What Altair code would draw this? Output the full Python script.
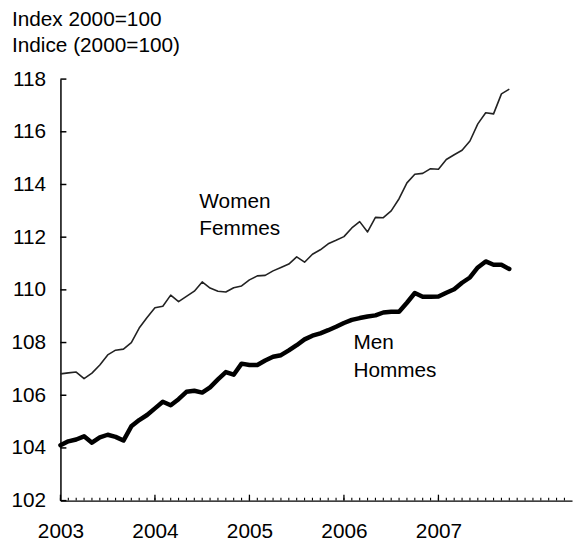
import altair as alt
import pandas as pd

# ---- data ----
months = [f"{y}-{m:02d}" for y in range(2003, 2008) for m in range(1, 13)][:58]  # Jan 2003 .. Oct 2007
women = [106.81, 106.85, 106.88, 106.63, 106.84, 107.15, 107.53, 107.71, 107.75, 108.0,
         108.55, 108.95, 109.32, 109.38, 109.8, 109.55, 109.75, 109.95, 110.3, 110.07,
         109.95, 109.92, 110.08, 110.15, 110.38, 110.53, 110.55, 110.72, 110.85, 110.98,
         111.25, 111.05, 111.35, 111.52, 111.75, 111.88, 112.02, 112.35, 112.59, 112.2,
         112.75, 112.74, 113.0, 113.46, 114.06, 114.39, 114.42, 114.6, 114.58, 114.95,
         115.13, 115.3, 115.65, 116.3, 116.72, 116.68, 117.44, 117.62]
men = [104.1, 104.25, 104.32, 104.44, 104.2, 104.4, 104.5, 104.42, 104.28, 104.82,
       105.06, 105.25, 105.5, 105.75, 105.62, 105.85, 106.13, 106.17, 106.1, 106.3,
       106.6, 106.88, 106.78, 107.2, 107.15, 107.15, 107.32, 107.46, 107.52, 107.7,
       107.9, 108.12, 108.26, 108.35, 108.47, 108.6, 108.74, 108.86, 108.93, 108.99,
       109.03, 109.14, 109.17, 109.17, 109.51, 109.88, 109.74, 109.74, 109.75, 109.89,
       110.02, 110.27, 110.47, 110.85, 111.08, 110.95, 110.95, 110.79]
year_ticks = [2003, 2004, 2005, 2006, 2007]
y_ticks = [102, 104, 106, 108, 110, 112, 114, 116, 118]
minor_months = [2003 + k / 12 for k in range(0, 66)]
title_lines = ["Index 2000=100", "Indice (2000=100)"]
series_labels = [["Women", "Femmes"], ["Men", "Hommes"]]

def to_t(s):
    y, m = s.split("-")
    return int(y) + (int(m) - 1) / 12

df = pd.DataFrame({
    "t": [to_t(s) for s in months] * 2,
    "v": women + men,
    "series": ["Women"] * len(women) + ["Men"] * len(men),
})

FONT = "Liberation Sans"
PX_PER_YEAR = 95.5
W, H = 517, 426
XDOM = [2003, 2003 + W / PX_PER_YEAR]
YDOM = [102, 118]

xs = alt.Scale(domain=XDOM, nice=False, zero=False)
ys = alt.Scale(domain=YDOM, nice=False, zero=False)

base = alt.Chart(df)

women_line = base.transform_filter(alt.datum.series == "Women").mark_line(
    color="#222222", strokeWidth=1.6, strokeJoin="round"
).encode(
    x=alt.X("t:Q", scale=xs, axis=alt.Axis(
        values=year_ticks, format="d", ticks=False, grid=False,
        domainColor="black", domainWidth=1.5, labelPadding=20,
        labelFont=FONT, labelFontSize=21, labelColor="black", title=None,
        labelFlush=False)),
    y=alt.Y("v:Q", scale=ys, axis=alt.Axis(
        values=y_ticks, ticks=False, grid=False,
        domainColor="black", domainWidth=1.5, labelPadding=15,
        labelFont=FONT, labelFontSize=21, labelColor="black", title=None)),
)

men_line = base.transform_filter(alt.datum.series == "Men").mark_line(
    color="black", strokeWidth=4.5, strokeJoin="round", strokeCap="round"
).encode(x=alt.X("t:Q", scale=xs), y=alt.Y("v:Q", scale=ys))

yticks = alt.Chart(pd.DataFrame({"v": y_ticks})).mark_rule(
    color="black", strokeWidth=1.5).encode(
    y=alt.Y("v:Q", scale=ys), x=alt.value(0), x2=alt.value(6))

xmajor = alt.Chart(pd.DataFrame({"t": year_ticks})).mark_rule(
    color="black", strokeWidth=1.3).encode(
    x=alt.X("t:Q", scale=xs), y=alt.value(H), y2=alt.value(H - 6))

xminor = alt.Chart(pd.DataFrame({"t": minor_months})).transform_filter(
    alt.datum.t <= XDOM[1]).mark_rule(color="black", strokeWidth=1.1).encode(
    x=alt.X("t:Q", scale=xs), y=alt.value(H), y2=alt.value(H - 3))

lab_df = pd.DataFrame({
    "t": [2004.47, 2006.10],
    "v": [113.12, 107.75],
    "txt": series_labels,
})
labels = alt.Chart(lab_df).mark_text(
    align="left", baseline="alphabetic", font=FONT, fontSize=21,
    color="black", lineHeight=28
).encode(x=alt.X("t:Q", scale=xs), y=alt.Y("v:Q", scale=ys), text="txt")

title = alt.Chart(pd.DataFrame({"txt": [title_lines]})).mark_text(
    align="left", baseline="alphabetic", font=FONT, fontSize=21,
    color="black", lineHeight=27
).encode(x=alt.value(-49), y=alt.value(-54), text="txt")

chart = alt.layer(women_line, men_line, yticks, xmajor, xminor, labels, title).properties(
    width=W, height=H,
    autosize=alt.AutoSizeParams(type="none"),
    padding={"left": 53, "top": 69, "right": 2, "bottom": 42},
).configure_view(stroke=None)

chart.save("out.html", embed_options={"renderer": "svg", "actions": False})
